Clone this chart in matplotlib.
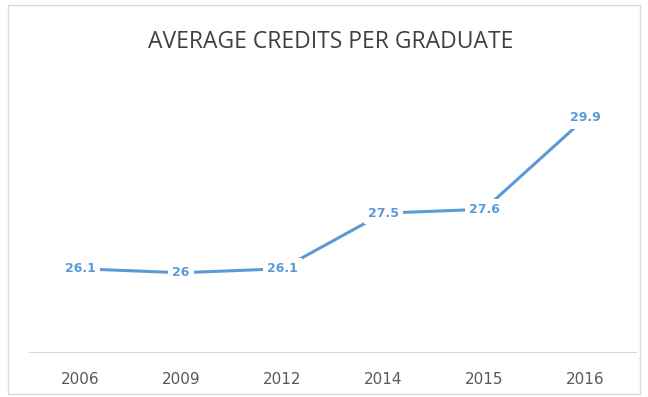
import matplotlib
matplotlib.use("Agg")
import matplotlib.pyplot as plt
from matplotlib.patches import Rectangle

# data
years = ["2006", "2009", "2012", "2014", "2015", "2016"]
credits = [26.1, 26.0, 26.1, 27.5, 27.6, 29.9]

blue = "#5b9bd5"

fig = plt.figure(figsize=(6.48, 3.97), dpi=100)
ax = fig.add_axes([0.0455, 0.113, 0.936, 0.700])

x = range(len(years))
ax.plot(x, credits, color=blue, linewidth=2.2, zorder=2)

# data labels sit on top of the points, white box cuts the line
for i, v in enumerate(credits):
    ax.text(i, v, f"{v:g}", ha="center", va="center", fontsize=9,
            fontweight="bold", color=blue, zorder=3,
            bbox=dict(facecolor="white", edgecolor="none", pad=3))

ax.set_xlim(-0.5, len(years) - 0.5)
ax.set_ylim(24, 31)
ax.set_xticks(list(x))
ax.set_xticklabels(years, fontsize=11, color="#595959")
ax.set_yticks([])
ax.tick_params(axis="x", length=0, pad=14)
for s in ["top", "left", "right"]:
    ax.spines[s].set_visible(False)
ax.spines["bottom"].set_color("#d9d9d9")

fig.text(0.51, 0.895, "AVERAGE CREDITS PER GRADUATE", ha="center", va="center",
         fontsize=16.5, color="#404040", family="Open Sans")

# chart border
fig.add_artist(Rectangle((0.013, 0.008), 0.975, 0.98, transform=fig.transFigure,
                         fill=False, edgecolor="#d9d9d9", linewidth=1))

fig.savefig("out.png", dpi=100)
